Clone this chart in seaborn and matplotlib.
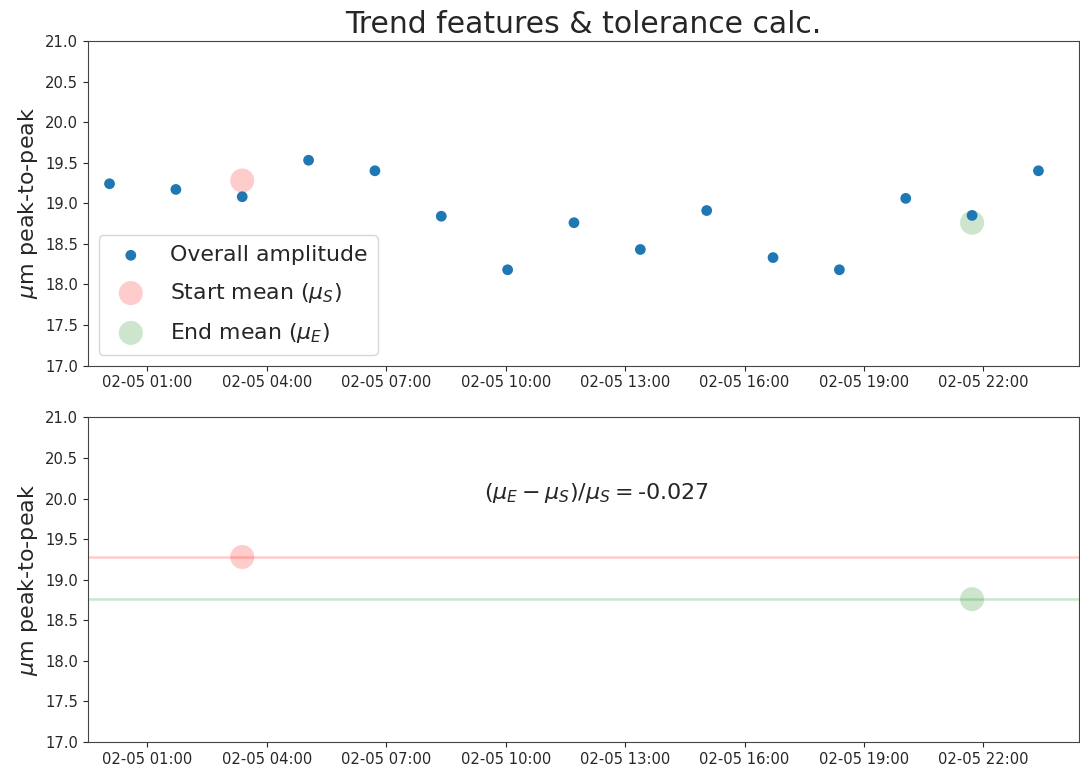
import matplotlib
matplotlib.use("Agg")
import matplotlib.pyplot as plt
import matplotlib.dates as mdates
import seaborn as sns
import pandas as pd

# ---- data ----
times = ["2019-02-05 00:03", "2019-02-05 01:43", "2019-02-05 03:23", "2019-02-05 05:03",
         "2019-02-05 06:43", "2019-02-05 08:23", "2019-02-05 10:03", "2019-02-05 11:43",
         "2019-02-05 13:23", "2019-02-05 15:03", "2019-02-05 16:43", "2019-02-05 18:23",
         "2019-02-05 20:03", "2019-02-05 21:43", "2019-02-05 23:23"]
amplitude = [19.24, 19.17, 19.08, 19.53, 19.40, 18.84, 18.18, 18.76,
             18.43, 18.91, 18.33, 18.18, 19.06, 18.85, 19.40]
start_time = ["2019-02-05 03:23"]
start_mean = [19.28]
end_time = ["2019-02-05 21:43"]
end_mean = [18.76]
ratio_value = -0.027
x_limits = ["2019-02-04 23:30:36", "2019-02-06 00:24:00"]
y_limits = [17.0, 21.0]

df = pd.DataFrame({"time": pd.to_datetime(times), "amp": amplitude})
df_s = pd.DataFrame({"time": pd.to_datetime(start_time), "val": start_mean})
df_e = pd.DataFrame({"time": pd.to_datetime(end_time), "val": end_mean})

sns.set_style("ticks")
plt.rcParams["font.family"] = ["DejaVu Sans"]
plt.rcParams["mathtext.fontset"] = "dejavusans"

fig, (ax1, ax2) = plt.subplots(2, 1, figsize=(10.8, 7.7), dpi=100)
fig.subplots_adjust(left=0.0815, right=0.999, top=0.9468, bottom=0.0364, hspace=0.16)

blue = "#1f77b4"
# top panel
sns.scatterplot(data=df, x="time", y="amp", ax=ax1, color=blue, s=60, edgecolor="none",
                label="Overall amplitude", zorder=3)
sns.scatterplot(data=df_s, x="time", y="val", ax=ax1, color="r", alpha=0.2, s=300,
                edgecolor="none", label=r"Start mean ($\mu_S$)", zorder=4)
sns.scatterplot(data=df_e, x="time", y="val", ax=ax1, color="g", alpha=0.2, s=300,
                edgecolor="none", label=r"End mean ($\mu_E$)", zorder=2)
ax1.set_title("Trend features & tolerance calc.", fontsize=21.5)
ax1.legend(loc="lower left", fontsize=15.8, borderpad=0.45, handletextpad=0.8,
           labelspacing=0.72)

# bottom panel
ax2.axhline(start_mean[0], color="r", alpha=0.2, lw=1.8)
ax2.axhline(end_mean[0], color="g", alpha=0.2, lw=1.8)
sns.scatterplot(data=df_s, x="time", y="val", ax=ax2, color="r", alpha=0.2, s=300,
                edgecolor="none", zorder=4)
sns.scatterplot(data=df_e, x="time", y="val", ax=ax2, color="g", alpha=0.2, s=300,
                edgecolor="none", zorder=4)
ax2.text(0.40, 20.07, r"$(\mu_E - \mu_S)/\mu_S = $" + f"{ratio_value:.3f}",
         transform=ax2.get_yaxis_transform(), fontsize=16, ha="left", va="center")

xl = pd.to_datetime(x_limits)
for ax in (ax1, ax2):
    ax.set_ylim(*y_limits)
    ax.set_xlim(xl[0], xl[1])
    ax.xaxis.set_major_locator(mdates.HourLocator(byhour=range(1, 24, 3)))
    ax.xaxis.set_major_formatter(mdates.DateFormatter("%m-%d %H:%M"))
    ax.set_xlabel("")
    ax.set_ylabel(r"$\mu$m peak-to-peak", fontsize=16)
    ax.tick_params(labelsize=10.6)
    for sp in ax.spines.values():
        sp.set_visible(True)
        sp.set_color("#444444")

fig.savefig("out.png", dpi=100)
